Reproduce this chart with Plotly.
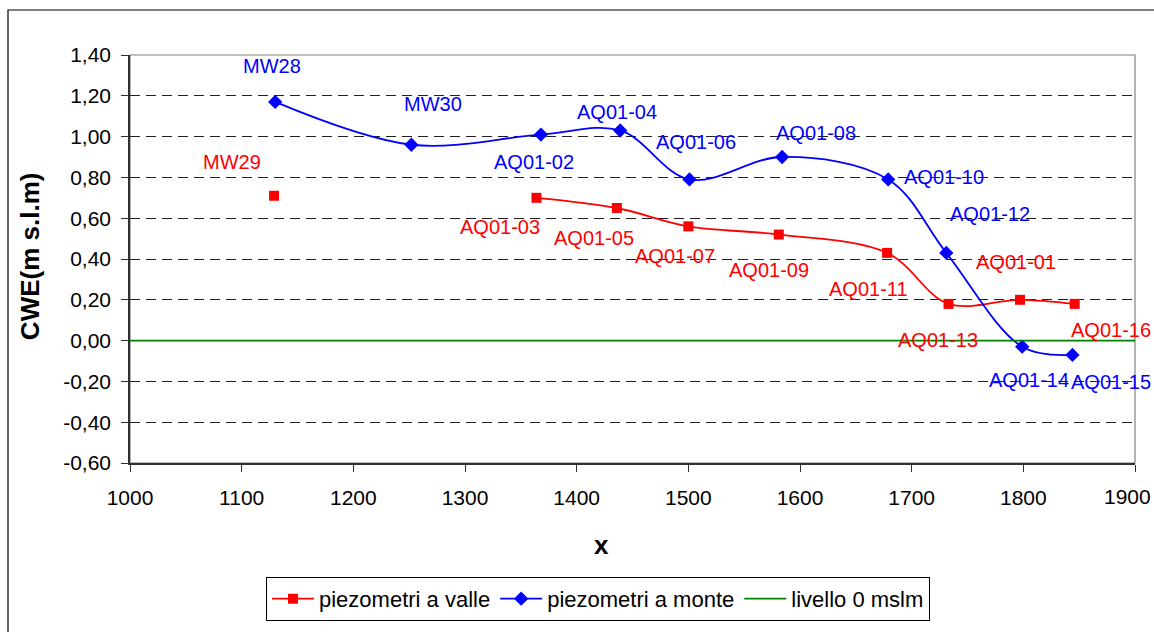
import plotly.graph_objects as go

# ---- data ----
valle_x = [1129, None, 1364, 1436, 1500, 1581, 1678, 1733, 1797, 1846]
valle_y = [0.71, None, 0.70, 0.65, 0.56, 0.52, 0.43, 0.18, 0.20, 0.18]
valle_labels = ["MW29", "", "AQ01-03", "AQ01-05", "AQ01-07", "AQ01-09", "AQ01-11", "AQ01-13", "AQ01-01", "AQ01-16"]

monte_x = [1130, 1252, 1368, 1439, 1501, 1584, 1679, 1731, 1799, 1844]
monte_y = [1.17, 0.96, 1.01, 1.03, 0.79, 0.90, 0.79, 0.43, -0.03, -0.07]
monte_labels = ["MW28", "MW30", "AQ01-02", "AQ01-04", "AQ01-06", "AQ01-08", "AQ01-10", "AQ01-12", "AQ01-14", "AQ01-15"]

zero_x = [1000, 1900]
zero_y = [0, 0]

x_ticks = [1000, 1100, 1200, 1300, 1400, 1500, 1600, 1700, 1800, 1900]
x_tick_text = [str(v) for v in x_ticks]
y_ticks = [1.40, 1.20, 1.00, 0.80, 0.60, 0.40, 0.20, 0.00, -0.20, -0.40, -0.60]
y_tick_text = [f"{v:.2f}".replace(".", ",") for v in y_ticks]

# label pixel offsets (dx, dy) relative to each point (layout only)
valle_off = [(-42, -34), None, (-36, 29), (-23, 30), (-13, 30), (-10, 35), (-19, 36), (-11, 36), (-4, -38), (36, 26)]
monte_off = [(-3, -36), (22, -41), (-7, 27), (-3, -18), (7, -37), (34, -24), (56, -2), (44, -39), (7, 33), (39, 27)]

FONT = "Liberation Sans, Arial, sans-serif"
RED = "#ff0000"
BLUE = "#0000ff"
GREEN = "#008000"

fig = go.Figure()
fig.add_trace(go.Scatter(
    x=valle_x, y=valle_y, mode="lines+markers", name="piezometri a valle",
    line=dict(color=RED, width=1.8, shape="spline"), connectgaps=False,
    marker=dict(symbol="square", size=10, color=RED)))
fig.add_trace(go.Scatter(
    x=monte_x, y=monte_y, mode="lines+markers", name="piezometri a monte",
    line=dict(color=BLUE, width=1.8, shape="spline"),
    marker=dict(symbol="diamond", size=11, color=BLUE)))
fig.add_trace(go.Scatter(
    x=zero_x, y=zero_y, mode="lines", name="livello 0 mslm",
    line=dict(color=GREEN, width=1.6)))

annotations = []
for xs, ys, labs, offs, col in [(valle_x, valle_y, valle_labels, valle_off, RED),
                                 (monte_x, monte_y, monte_labels, monte_off, BLUE)]:
    for xv, yv, lab, off in zip(xs, ys, labs, offs):
        if xv is None:
            continue
        annotations.append(dict(x=xv, y=yv, xref="x", yref="y", text=lab, showarrow=False,
                                xanchor="center", yanchor="middle",
                                xshift=off[0], yshift=-off[1],
                                font=dict(family=FONT, size=20, color=col)))

# last x tick label drawn as annotation, kept inside the page edge
annotations.append(dict(x=x_ticks[-1], y=-0.0833, xref="x", yref="paper", text=x_tick_text[-1],
                        showarrow=False, xanchor="right", yanchor="middle", xshift=18,
                        font=dict(family=FONT, size=21, color="black")))

annotations.append(dict(x=-0.0995, y=0.507, xref="paper", yref="paper", text="<b>CWE(m s.l.m)</b>",
                        textangle=-90, showarrow=False, xanchor="center", yanchor="middle",
                        font=dict(family=FONT, size=26, color="black")))
annotations.append(dict(x=0.4687, y=-0.201, xref="paper", yref="paper", text="<b>x</b>",
                        showarrow=False, xanchor="center", yanchor="middle",
                        font=dict(family=FONT, size=26, color="black")))

shapes = [
    # plot area frame (gray)
    dict(type="rect", xref="paper", yref="paper", x0=0, x1=1, y0=0, y1=1,
         line=dict(color="#808080", width=1.2), layer="below"),
    # outer chart border
    dict(type="rect", xref="paper", yref="paper", x0=-0.1214, x1=1.2, y0=-0.6, y1=1.1103,
         line=dict(color="black", width=1.2)),
]

fig.update_layout(
    width=1154, height=632,
    margin=dict(l=130, r=19, t=55, b=169, autoexpand=False),
    paper_bgcolor="white", plot_bgcolor="white",
    font=dict(family=FONT, size=21, color="black"),
    showlegend=True,
    legend=dict(orientation="h", x=0.1353, y=-0.279, xanchor="left", yanchor="top",
                bordercolor="black", borderwidth=1, bgcolor="white",
                font=dict(family=FONT, size=22), itemwidth=42, tracegroupgap=0),
    annotations=annotations,
    shapes=shapes,
)
fig.update_xaxes(range=[1000, 1900], tickvals=x_ticks, ticktext=x_tick_text[:-1] + [""],
                 showgrid=False, zeroline=False,
                 showline=True, linecolor="#303030", linewidth=1.5,
                 ticks="outside", ticklen=7, tickcolor="#303030",
                 tickfont=dict(family=FONT, size=21), ticklabelstandoff=8,
                 ticklabeloverflow="allow", automargin=False)
fig.update_yaxes(range=[-0.60, 1.40], tickvals=y_ticks, ticktext=y_tick_text,
                 showgrid=True, gridcolor="#202020", gridwidth=1, griddash="10px,6px",
                 zeroline=False, showline=True, linecolor="#303030", linewidth=1.5,
                 ticks="outside", ticklen=7, tickcolor="#303030",
                 tickfont=dict(family=FONT, size=21), ticklabelstandoff=6,
                 automargin=False)

fig.write_html("out.html")
